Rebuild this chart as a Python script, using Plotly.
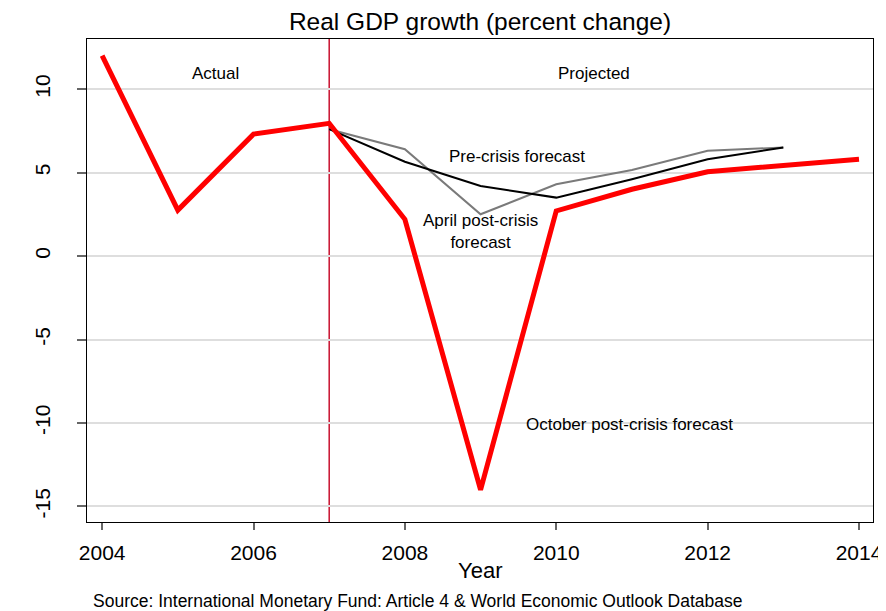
"""Real GDP growth: actual vs. successive IMF forecasts."""

import plotly.graph_objects as go

# ---------------------------------------------------------------------------
# Data
# ---------------------------------------------------------------------------

years_october = [2004, 2005, 2006, 2007, 2008, 2009, 2010, 2011, 2012, 2013, 2014]
october_post_crisis = [12.0, 2.75, 7.3, 7.95, 2.2, -14.0, 2.7, 4.0, 5.05, 5.45, 5.8]

years_forecast = [2007, 2008, 2009, 2010, 2011, 2012, 2013]
pre_crisis = [7.6, 5.65, 4.2, 3.5, 4.6, 5.8, 6.5]
april_post_crisis = [7.6, 6.4, 2.5, 4.3, 5.15, 6.3, 6.5]

projection_start = 2007
y_ticks = [-15, -10, -5, 0, 5, 10]
y_tick_text = ["-15", "-10", "-5", "0", "5", "10"]
x_ticks = [2004, 2006, 2008, 2010, 2012, 2014]

FONT = "Liberation Sans, Arial, sans-serif"

# The page body has an 8px margin, so the figure is sized 8px smaller.
PAGE_PAD = 8

# ---------------------------------------------------------------------------
# Figure
# ---------------------------------------------------------------------------

fig = go.Figure()

fig.add_vline(
    x=projection_start,
    line=dict(color="#c8102e", width=1.5),
    layer="below",
)

fig.add_trace(
    go.Scatter(
        x=years_forecast,
        y=april_post_crisis,
        mode="lines",
        line=dict(color="#7a7a7a", width=2),
        name="April post-crisis forecast",
    )
)
fig.add_trace(
    go.Scatter(
        x=years_forecast,
        y=pre_crisis,
        mode="lines",
        line=dict(color="black", width=2),
        name="Pre-crisis forecast",
    )
)
fig.add_trace(
    go.Scatter(
        x=years_october,
        y=october_post_crisis,
        mode="lines",
        line=dict(color="#ff0000", width=5),
        name="October post-crisis forecast",
    )
)

# Text labels placed in data space
labels = [
    (2005.5, 10.95, "Actual", "center"),
    (2010.5, 10.95, "Projected", "center"),
    (2009.48, 5.95, "Pre-crisis forecast", "center"),
    (2009.0, 1.45, "April post-crisis<br>forecast", "center"),
    (2009.57, -10.1, "October post-crisis forecast", "left"),
]
for x, y, txt, anchor in labels:
    fig.add_annotation(
        x=x, y=y, text=txt, showarrow=False, xanchor=anchor,
        font=dict(family=FONT, size=17, color="black"),
    )

# Axis title and source line, positioned in paper space
fig.add_annotation(
    x=0.5, y=-0.0994, xref="paper", yref="paper", yanchor="middle",
    text="Year", showarrow=False,
    font=dict(family=FONT, size=22, color="black"),
)
fig.add_annotation(
    x=0.42, y=-0.163, xref="paper", yref="paper", yanchor="middle",
    text="Source: International Monetary Fund: Article 4 & World Economic Outlook Database",
    showarrow=False, font=dict(family=FONT, size=17.5, color="black"),
)

fig.update_layout(
    width=886 - PAGE_PAD,
    height=611 - PAGE_PAD,
    plot_bgcolor="white",
    paper_bgcolor="white",
    showlegend=False,
    margin=dict(l=87 - PAGE_PAD, r=13, t=39 - PAGE_PAD, b=89),
    font=dict(family=FONT, color="black"),
    title=dict(
        text="Real GDP growth (percent change)",
        x=0.5, xref="paper", y=1 - 13.5 / 603, yanchor="middle",
        font=dict(family=FONT, size=24.5, color="black"),
    ),
    xaxis=dict(
        range=[2003.8, 2014.185],
        tickvals=x_ticks,
        automargin=False,
        showgrid=False,
        zeroline=False,
        showline=True, mirror=True, linecolor="black", linewidth=1,
        ticks="outside", ticklen=7, tickcolor="#666666", tickwidth=1.5,
        tickfont=dict(family=FONT, size=21, color="black"),
        ticklabelstandoff=5,
    ),
    yaxis=dict(
        range=[-15.93, 13.0],
        tickvals=y_ticks,
        ticktext=y_tick_text,
        tickangle=-90,
        automargin=False,
        showgrid=True, gridcolor="#dedede", gridwidth=2,
        zeroline=False,
        showline=True, mirror=True, linecolor="black", linewidth=1,
        ticks="outside", ticklen=9, tickcolor="#666666", tickwidth=1.5,
        tickfont=dict(family=FONT, size=21, color="black"),
        ticklabelstandoff=19,
    ),
)

fig.write_html("out.html")
